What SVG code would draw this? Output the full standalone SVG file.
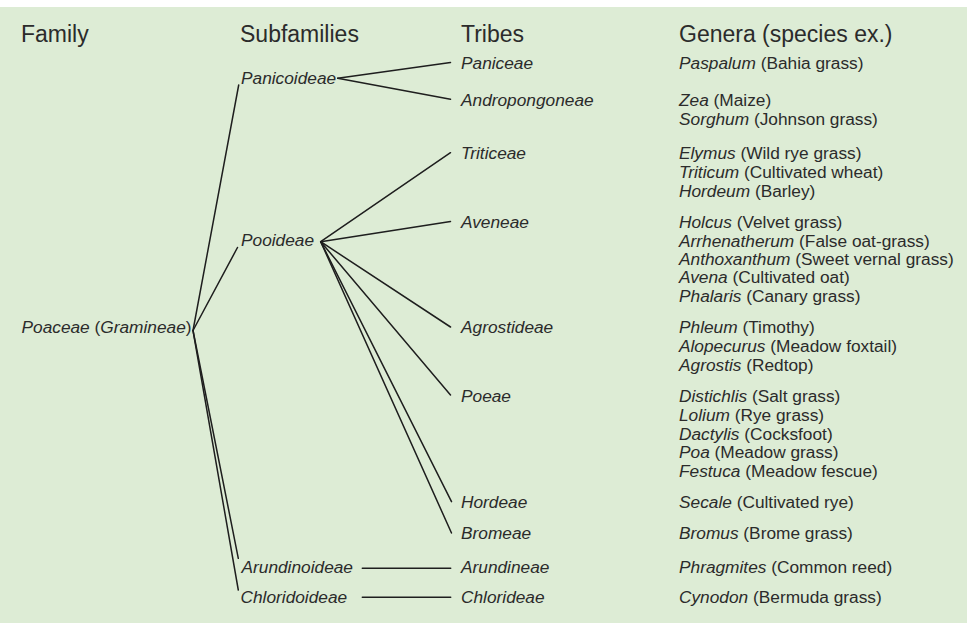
<svg xmlns="http://www.w3.org/2000/svg" width="967" height="623" viewBox="0 0 967 623">
<style>
text{font-family:"Liberation Sans",Arial,sans-serif;fill:#2b2b2b;}
.h{font-size:23px;}
.t{font-size:17.3px;}
.i{font-style:italic;}
.c line{stroke:#1e1e1e;stroke-width:1.5;stroke-linecap:round;}
</style>
<rect x="0" y="7" width="967" height="616" fill="#ddecd5"/>
<g id="headers">
<text class="h" x="21" y="41.5">Family</text>
<text class="h" x="240" y="41.5">Subfamilies</text>
<text class="h" x="461" y="41.5">Tribes</text>
<text class="h" x="679" y="41.5">Genera (species ex.)</text>
</g>
<g class="c" id="connectors">
<line x1="193" y1="330.5" x2="238.7" y2="85"/>
<line x1="193" y1="330.5" x2="237.5" y2="247.5"/>
<line x1="193" y1="330.5" x2="238.3" y2="558.3"/>
<line x1="193" y1="330.5" x2="238.3" y2="590"/>
<line x1="337.7" y1="78.3" x2="450.5" y2="62.5"/>
<line x1="337.7" y1="78.3" x2="450.5" y2="99.3"/>
<line x1="320.7" y1="241.7" x2="450.5" y2="152.7"/>
<line x1="320.7" y1="241.7" x2="450.5" y2="221.5"/>
<line x1="320.7" y1="241.7" x2="450.5" y2="327"/>
<line x1="320.7" y1="241.7" x2="450.5" y2="395"/>
<line x1="320.7" y1="241.7" x2="451.5" y2="501.7"/>
<line x1="320.7" y1="241.7" x2="451.5" y2="533"/>
<line x1="362.3" y1="568.3" x2="450.7" y2="568.3"/>
<line x1="362.3" y1="597.3" x2="450.7" y2="597.3"/>
</g>
<g id="family"><text class="t" x="21.5" y="333.3"><tspan class="i">Poaceae</tspan> (<tspan class="i">Gramineae</tspan>)</text></g>
<g id="sub-panicoideae"><text class="t i" x="241" y="84">Panicoideae</text></g>
<g id="sub-pooideae"><text class="t i" x="241" y="246">Pooideae</text></g>
<g id="sub-arundinoideae"><text class="t i" x="241.5" y="572.7">Arundinoideae</text></g>
<g id="sub-chloridoideae"><text class="t i" x="240.5" y="602.7">Chloridoideae</text></g>
<g id="tribe-paniceae"><text class="t i" x="461" y="69.3">Paniceae</text></g>
<g id="tribe-andropongoneae"><text class="t i" x="461" y="106">Andropongoneae</text></g>
<g id="tribe-triticeae"><text class="t i" x="461" y="158.5">Triticeae</text></g>
<g id="tribe-aveneae"><text class="t i" x="461" y="228.3">Aveneae</text></g>
<g id="tribe-agrostideae"><text class="t i" x="461" y="333.3">Agrostideae</text></g>
<g id="tribe-poeae"><text class="t i" x="461" y="401.7">Poeae</text></g>
<g id="tribe-hordeae"><text class="t i" x="461" y="508.3">Hordeae</text></g>
<g id="tribe-bromeae"><text class="t i" x="461" y="539.3">Bromeae</text></g>
<g id="tribe-arundineae"><text class="t i" x="461" y="572.5">Arundineae</text></g>
<g id="tribe-chlorideae"><text class="t i" x="461" y="603">Chlorideae</text></g>
<g id="genera" class="t">
<text class="t" x="679" y="69.3"><tspan class="i">Paspalum</tspan> (Bahia grass)</text>
<text class="t" x="679" y="106"><tspan class="i">Zea</tspan> (Maize)</text>
<text class="t" x="679" y="124.5"><tspan class="i">Sorghum</tspan> (Johnson grass)</text>
<text class="t" x="679" y="158.5"><tspan class="i">Elymus</tspan> (Wild rye grass)</text>
<text class="t" x="679" y="177.5"><tspan class="i">Triticum</tspan> (Cultivated wheat)</text>
<text class="t" x="679" y="196.5"><tspan class="i">Hordeum</tspan> (Barley)</text>
<text class="t" x="679" y="228.3"><tspan class="i">Holcus</tspan> (Velvet grass)</text>
<text class="t" x="679" y="246.7"><tspan class="i">Arrhenatherum</tspan> (False oat-grass)</text>
<text class="t" x="679" y="265"><tspan class="i">Anthoxanthum</tspan> (Sweet vernal grass)</text>
<text class="t" x="679" y="283.3"><tspan class="i">Avena</tspan> (Cultivated oat)</text>
<text class="t" x="679" y="301.7"><tspan class="i">Phalaris</tspan> (Canary grass)</text>
<text class="t" x="679" y="333.3"><tspan class="i">Phleum</tspan> (Timothy)</text>
<text class="t" x="679" y="351.7"><tspan class="i">Alopecurus</tspan> (Meadow foxtail)</text>
<text class="t" x="679" y="370.5"><tspan class="i">Agrostis</tspan> (Redtop)</text>
<text class="t" x="679" y="401.7"><tspan class="i">Distichlis</tspan> (Salt grass)</text>
<text class="t" x="679" y="420.5"><tspan class="i">Lolium</tspan> (Rye grass)</text>
<text class="t" x="679" y="439.5"><tspan class="i">Dactylis</tspan> (Cocksfoot)</text>
<text class="t" x="679" y="458"><tspan class="i">Poa</tspan> (Meadow grass)</text>
<text class="t" x="679" y="476.7"><tspan class="i">Festuca</tspan> (Meadow fescue)</text>
<text class="t" x="679" y="508.3"><tspan class="i">Secale</tspan> (Cultivated rye)</text>
<text class="t" x="679" y="539.3"><tspan class="i">Bromus</tspan> (Brome grass)</text>
<text class="t" x="679" y="572.5"><tspan class="i">Phragmites</tspan> (Common reed)</text>
<text class="t" x="679" y="603"><tspan class="i">Cynodon</tspan> (Bermuda grass)</text>
</g>
</svg>
